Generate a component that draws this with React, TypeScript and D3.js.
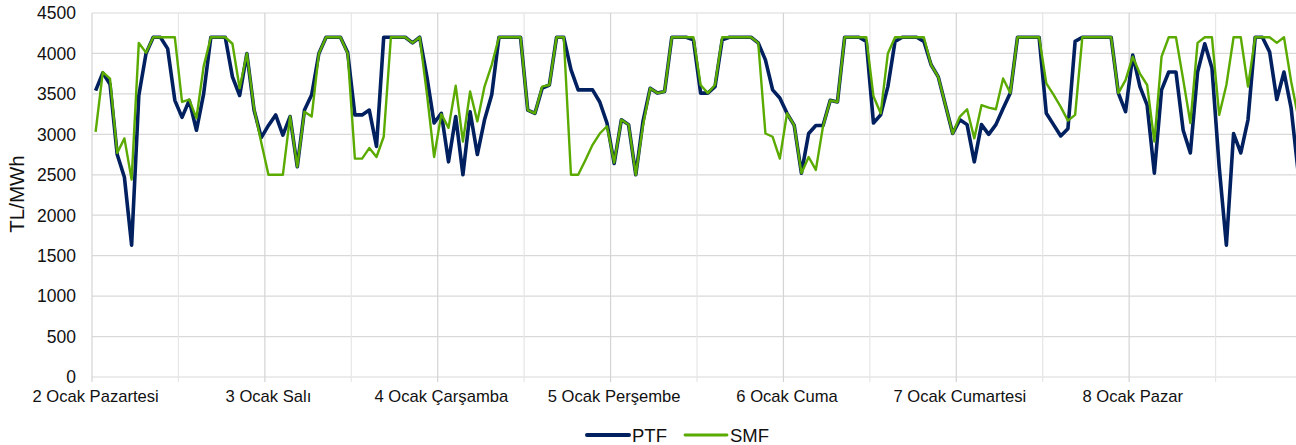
import React, { useEffect, useRef } from 'react';
import * as d3 from 'd3';

// hourly prices, 2-8 Ocak, one row per day (24 hours)
const ptf = [
  3540, 3760, 3620, 2750, 2470, 1630, 3480, 4000, 4200, 4200, 4060, 3420, 3210, 3420, 3050, 3500, 4200, 4200, 4200, 3710, 3480, 4000, 3300, 2960,
  3110, 3240, 2990, 3220, 2600, 3300, 3490, 4000, 4200, 4200, 4200, 4010, 3240, 3240, 3300, 2850, 4200, 4200, 4200, 4200, 4130, 4200, 3710, 3140,
  3260, 2660, 3220, 2500, 3280, 2750, 3180, 3490, 4200, 4200, 4200, 4200, 3300, 3260, 3570, 3610, 4200, 4200, 3800, 3550, 3550, 3550, 3400, 3140,
  2640, 3180, 3120, 2500, 3160, 3570, 3510, 3530, 4200, 4200, 4200, 4170, 3510, 3510, 3590, 4170, 4200, 4200, 4200, 4200, 4130, 3920, 3550, 3450,
  3260, 3110, 2520, 3010, 3110, 3110, 3420, 3400, 4200, 4200, 4200, 4150, 3140, 3240, 3590, 4150, 4200, 4200, 4200, 4150, 3860, 3710, 3360, 3010,
  3180, 3120, 2660, 3120, 3000, 3120, 3320, 3510, 4200, 4200, 4200, 4200, 3260, 3120, 2980, 3070, 4150, 4200, 4200, 4200, 4200, 4200, 3510, 3280,
  3980, 3590, 3360, 2520, 3550, 3770, 3770, 3050, 2770, 3770, 4120, 3820, 2600, 1630, 3010, 2770, 3180, 4200, 4200, 4020, 3430, 3770, 3320, 2500,
];

const smf = [
  3030, 3770, 3690, 2770, 2950, 2440, 4130, 4010, 4200, 4200, 4200, 4200, 3400, 3430, 3200, 3840, 4200, 4200, 4200, 4120, 3570, 4000, 3320, 2900,
  2500, 2500, 2500, 3220, 2600, 3280, 3220, 4000, 4200, 4200, 4200, 4000, 2700, 2700, 2830, 2720, 2970, 4200, 4200, 4200, 4130, 4200, 3500, 2720,
  3250, 3080, 3600, 2910, 3530, 3160, 3590, 3860, 4200, 4200, 4200, 4200, 3300, 3260, 3590, 3610, 4200, 4200, 2500, 2500, 2680, 2870, 3010, 3100,
  2650, 3180, 3120, 2500, 3110, 3570, 3510, 3530, 4200, 4200, 4200, 4200, 3610, 3510, 3610, 4200, 4200, 4200, 4200, 4200, 4130, 3010, 2970, 2700,
  3260, 3110, 2520, 2720, 2560, 3100, 3420, 3400, 4200, 4200, 4200, 4200, 3470, 3260, 4000, 4200, 4200, 4200, 4200, 4200, 3860, 3710, 3360, 3010,
  3220, 3310, 2950, 3360, 3330, 3310, 3690, 3510, 4200, 4200, 4200, 4200, 3630, 3490, 3340, 3170, 3240, 4200, 4200, 4200, 4200, 4200, 3510, 3670,
  3960, 3750, 3610, 2910, 3960, 4200, 4200, 3680, 3140, 4130, 4200, 4200, 3240, 3610, 4200, 4200, 3590, 4200, 4200, 4200, 4130, 4200, 3650, 3200,
];

const days = [
  '2 Ocak Pazartesi',
  '3 Ocak Salı',
  '4 Ocak Çarşamba',
  '5 Ocak Perşembe',
  '6 Ocak Cuma',
  '7 Ocak Cumartesi',
  '8 Ocak Pazar',
];

const yTicks = [0, 500, 1000, 1500, 2000, 2500, 3000, 3500, 4000, 4500];

const series = [
  { name: 'PTF', values: ptf, color: '#002060', width: 3.6 },
  { name: 'SMF', values: smf, color: '#5aaa00', width: 2.4 },
];

const FONT = "'Liberation Sans', Arial, sans-serif";

export default function App() {
  const svgRef = useRef<SVGSVGElement>(null);

  useEffect(() => {
    const svg = d3.select(svgRef.current);
    svg.selectAll('*').remove();

    const width = 1296;
    const height = 445;
    const margin = { top: 13, left: 92, bottom: 377, right: 1302 };

    const hours = d3.range(ptf.length);
    const x = d3
      .scaleBand<number>()
      .domain(hours)
      .range([margin.left, margin.right])
      .padding(0);
    const cx = (i: number) => (x(i) as number) + x.bandwidth() / 2;

    const y = d3
      .scaleLinear()
      .domain([0, 4500])
      .range([margin.bottom, margin.top]);

    svg.attr('width', width).attr('height', height);

    // horizontal grid
    svg
      .append('g')
      .selectAll('line')
      .data(yTicks)
      .join('line')
      .attr('x1', margin.left)
      .attr('x2', margin.right)
      .attr('y1', (d) => y(d))
      .attr('y2', (d) => y(d))
      .attr('stroke', '#d9d9d9')
      .attr('stroke-width', 1.2);

    // vertical grid every 12 hours, ticks below axis
    const halfDays = hours.filter((i) => i % 12 === 0);
    svg
      .append('g')
      .selectAll('line')
      .data(halfDays)
      .join('line')
      .attr('x1', (d) => x(d) as number)
      .attr('x2', (d) => x(d) as number)
      .attr('y1', margin.top)
      .attr('y2', margin.bottom + 5)
      .attr('stroke', (d) => (d % 24 === 0 ? '#d4d4d4' : '#e6e6e6'))
      .attr('stroke-width', 1.2);

    // y labels
    svg
      .append('g')
      .selectAll('text')
      .data(yTicks)
      .join('text')
      .attr('x', 76)
      .attr('y', (d) => y(d))
      .attr('dy', '0.36em')
      .attr('text-anchor', 'end')
      .attr('font-family', FONT)
      .attr('font-size', 17.5)
      .attr('fill', '#111')
      .text((d) => d);

    // x labels
    svg
      .append('g')
      .selectAll('text')
      .data(days)
      .join('text')
      .attr('x', (_, i) => cx(i * 24))
      .attr('y', 402)
      .attr('text-anchor', 'middle')
      .attr('font-family', FONT)
      .attr('font-size', 16.6)
      .attr('fill', '#111')
      .text((d) => d);

    // y title
    svg
      .append('text')
      .attr('transform', 'translate(24,194) rotate(-90)')
      .attr('text-anchor', 'middle')
      .attr('font-family', FONT)
      .attr('font-size', 20.5)
      .attr('fill', '#111')
      .text('TL/MWh');

    // lines
    const line = d3
      .line<number>()
      .x((_, i) => cx(i))
      .y((d) => y(d));

    svg
      .append('g')
      .selectAll('path')
      .data(series)
      .join('path')
      .attr('fill', 'none')
      .attr('stroke', (d) => d.color)
      .attr('stroke-width', (d) => d.width)
      .attr('stroke-linejoin', 'round')
      .attr('d', (d) => line(d.values));

    // legend
    const legendX = [587, 685];
    const legend = svg
      .append('g')
      .selectAll('g')
      .data(series)
      .join('g')
      .attr('transform', (_, i) => `translate(${legendX[i]},435)`);
    legend
      .append('line')
      .attr('x1', 0)
      .attr('x2', 42)
      .attr('stroke', (d) => d.color)
      .attr('stroke-width', (d) => d.width + 0.4)
      .attr('stroke-linecap', 'round');
    legend
      .append('text')
      .attr('x', 45)
      .attr('y', 6.5)
      .attr('font-family', FONT)
      .attr('font-size', 18.5)
      .attr('fill', '#111')
      .text((d) => d.name);
  }, []);

  return (
    <div style={{ position: 'absolute', left: 0, top: 0, width: 1296, height: 445, overflow: 'hidden' }}>
      <svg ref={svgRef} style={{ display: 'block' }} />
    </div>
  );
}
